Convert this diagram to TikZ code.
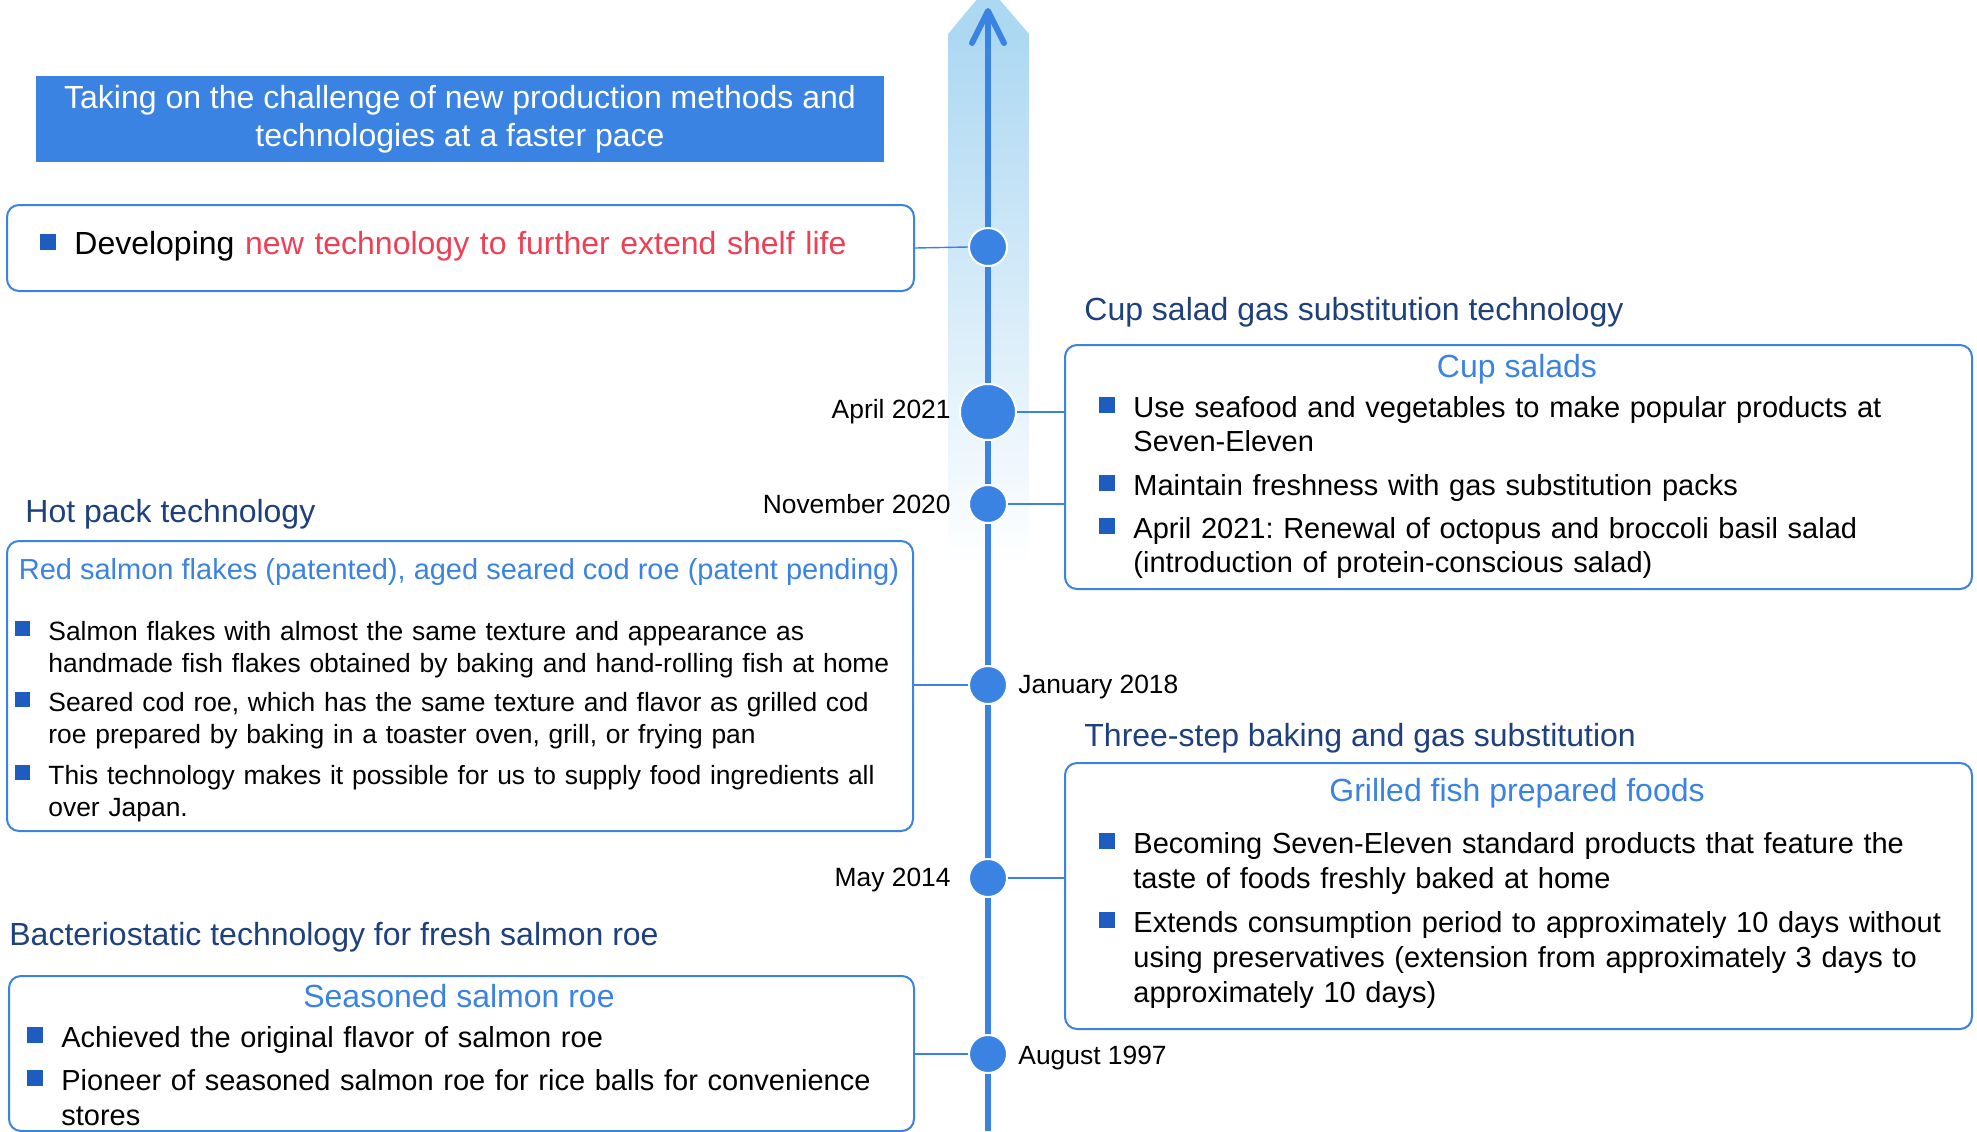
\documentclass[tikz,border=0pt]{standalone}
\usepackage{fontspec}
\setmainfont{Liberation Sans}
\usepackage{xcolor}
\usepackage{tikz}
\usetikzlibrary{arrows.meta, positioning}
\definecolor{tlblue}{RGB}{59,131,226}
\definecolor{headblue}{RGB}{30,64,125}
\definecolor{sqblue}{RGB}{30,92,192}
\definecolor{hlred}{RGB}{238,64,84}
\definecolor{bandblue}{RGB}{173,216,242}
\frenchspacing
\newcommand{\bul}[1][8pt]{\leavevmode\llap{\textcolor{sqblue}{\rule[2pt]{#1}{#1}}\hspace{9pt}}}
\tikzset{
  tbox/.style={draw=tlblue, line width=1pt, rounded corners=6pt,
               anchor=north west, inner sep=0pt},
  banner/.style={fill=tlblue, text=white, align=center, inner sep=0pt,
                 font=\fontsize{16}{19}\selectfont},
  head/.style={font=\fontsize{16}{19}\selectfont, text=headblue,
               anchor=west, inner sep=0pt},
  btitle/.style={font=\fontsize{16}{19}\selectfont, text=tlblue, inner sep=0pt},
  item/.style={font=#1, anchor=base west,
               text width=440pt, align=left, inner sep=0pt},
  item/.default=\fontsize{14.5}{17}\selectfont,
  dot/.style={circle, fill=tlblue, draw=white, line width=1pt,
              minimum size=#1, inner sep=0pt},
  dot/.default=19pt,
  date/.style={font=\fontsize{13.2}{16}\selectfont, inner sep=0pt},
  link/.style={draw=tlblue, line width=0.7pt},
  timeaxis/.style={draw=tlblue, line width=3pt,
                   -{Straight Barb[length=16pt, width=16pt, round]}},
}
\begin{document}
\begin{tikzpicture}[x=0.5pt, y=-0.5pt]
  \clip (0,0) rectangle (1977,1131);
  %% band and time axis
  \fill[bandblue] (948,34) -- (988,-14) -- (1029,34) -- cycle;
  \shade[top color=bandblue, bottom color=white] (948,34) rectangle (1029,566);
  \coordinate (axbot) at (988,1131);
  \coordinate (axtop) at (988,8);
  \draw[timeaxis] (axbot) -- (axtop);
  %% goal
  \node[banner, minimum width=424pt, minimum height=43pt] (goal) at (460,119)
    {Taking on the challenge of new production methods and\\technologies at a faster pace};
  %% boxes
  \node[tbox, minimum width=453.5pt, minimum height=43pt]  (shelf)   at (6,204) {};
  \node[tbox, minimum width=453.5pt, minimum height=122pt] (cupbox)  at (1064,344) {};
  \node[tbox, minimum width=453pt,   minimum height=145pt] (hotbox)  at (6,540) {};
  \node[tbox, minimum width=453.5pt, minimum height=133pt] (fishbox) at (1064,762) {};
  \node[tbox, minimum width=452.5pt, minimum height=77.5pt] (roebox) at (8,975) {};
  %% dots
  \node[dot]      (d1) at (988,247)  {};
  \node[dot=28pt] (d2) at (988,412)  {};
  \node[dot]      (d3) at (988,504)  {};
  \node[dot]      (d4) at (988,685)  {};
  \node[dot]      (d5) at (988,878)  {};
  \node[dot]      (d6) at (988,1054) {};
  %% connectors
  \draw[link] (shelf.east) -- (d1.west);
  \draw[link] (d2.east) -- (d2 -| cupbox.west);
  \draw[link] (d3.east) -- (d3 -| cupbox.west);
  \draw[link] (d4.west) -- (d4 -| hotbox.east);
  \draw[link] (d5.east) -- (d5 -| fishbox.west);
  \draw[link] (d6.west) -- (d6 -| roebox.east);
  %% dates
  \node[date, left=4pt of d2]                 (apr21) {April 2021};
  \node[date, left=8.5pt of d3]               (nov20) {November 2020};
  \node[date, right=5pt of d4, yshift=-1pt]   (jan18) {January 2018};
  \node[date, left=8.5pt of d5, yshift=-1pt]  (may14) {May 2014};
  \node[date, right=5pt of d6, yshift=-2pt]   (aug97) {August 1997};
  %% future
  \node[item=\fontsize{16}{19}\selectfont] (shelfi) at (74,254)
    {\bul Developing \textcolor{hlred}{new technology to further extend shelf life}};
  %% cup salads
  \node[head] (cuph) at (1084,312) {Cup salad gas substitution technology};
  \node[btitle] (cupt) at (1517,369) {Cup salads};
  \node[item] (cup1) at (1133,417) {\bul Use seafood and vegetables to make popular products at\\Seven-Eleven};
  \node[item] (cup2) at (1133,495) {\bul Maintain freshness with gas substitution packs};
  \node[item] (cup3) at (1133,538) {\bul April 2021: Renewal of octopus and broccoli basil salad\\(introduction of protein-conscious salad)};
  %% hot pack
  \node[head] (hoth) at (25,514) {Hot pack technology};
  \node[btitle, font=\fontsize{14.5}{17}\selectfont] (hott) at (459,572)
    {Red salmon flakes (patented), aged seared cod roe (patent pending)};
  \node[item=\fontsize{13.2}{16}\selectfont] (hot1) at (48,640) {\bul[7.5pt]Salmon flakes with almost the same texture and appearance as\\handmade fish flakes obtained by baking and hand-rolling fish at home};
  \node[item=\fontsize{13.2}{16}\selectfont] (hot2) at (48,711) {\bul[7.5pt]Seared cod roe, which has the same texture and flavor as grilled cod\\roe prepared by baking in a toaster oven, grill, or frying pan};
  \node[item=\fontsize{13.2}{16}\selectfont] (hot3) at (48,784) {\bul[7.5pt]This technology makes it possible for us to supply food ingredients all\\over Japan.};
  %% grilled fish
  \node[head] (fishh) at (1084,738) {Three-step baking and gas substitution};
  \node[btitle] (fisht) at (1517,793) {Grilled fish prepared foods};
  \node[item=\fontsize{14.5}{17.5}\selectfont] (fish1) at (1133,853) {\bul Becoming Seven-Eleven standard products that feature the\\taste of foods freshly baked at home};
  \node[item=\fontsize{14.5}{17.5}\selectfont] (fish2) at (1133,932) {\bul Extends consumption period to approximately 10 days without\\using preservatives (extension from approximately 3 days to\\approximately 10 days)};
  %% salmon roe
  \node[head] (roeh) at (9,937) {Bacteriostatic technology for fresh salmon roe};
  \node[btitle] (roet) at (459,996) {Seasoned salmon roe};
  \node[item=\fontsize{14.5}{17.5}\selectfont] (roe1) at (61,1047) {\bul Achieved the original flavor of salmon roe};
  \node[item=\fontsize{14.5}{17.5}\selectfont] (roe2) at (61,1090) {\bul Pioneer of seasoned salmon roe for rice balls for convenience\\stores};
\end{tikzpicture}
\end{document}
